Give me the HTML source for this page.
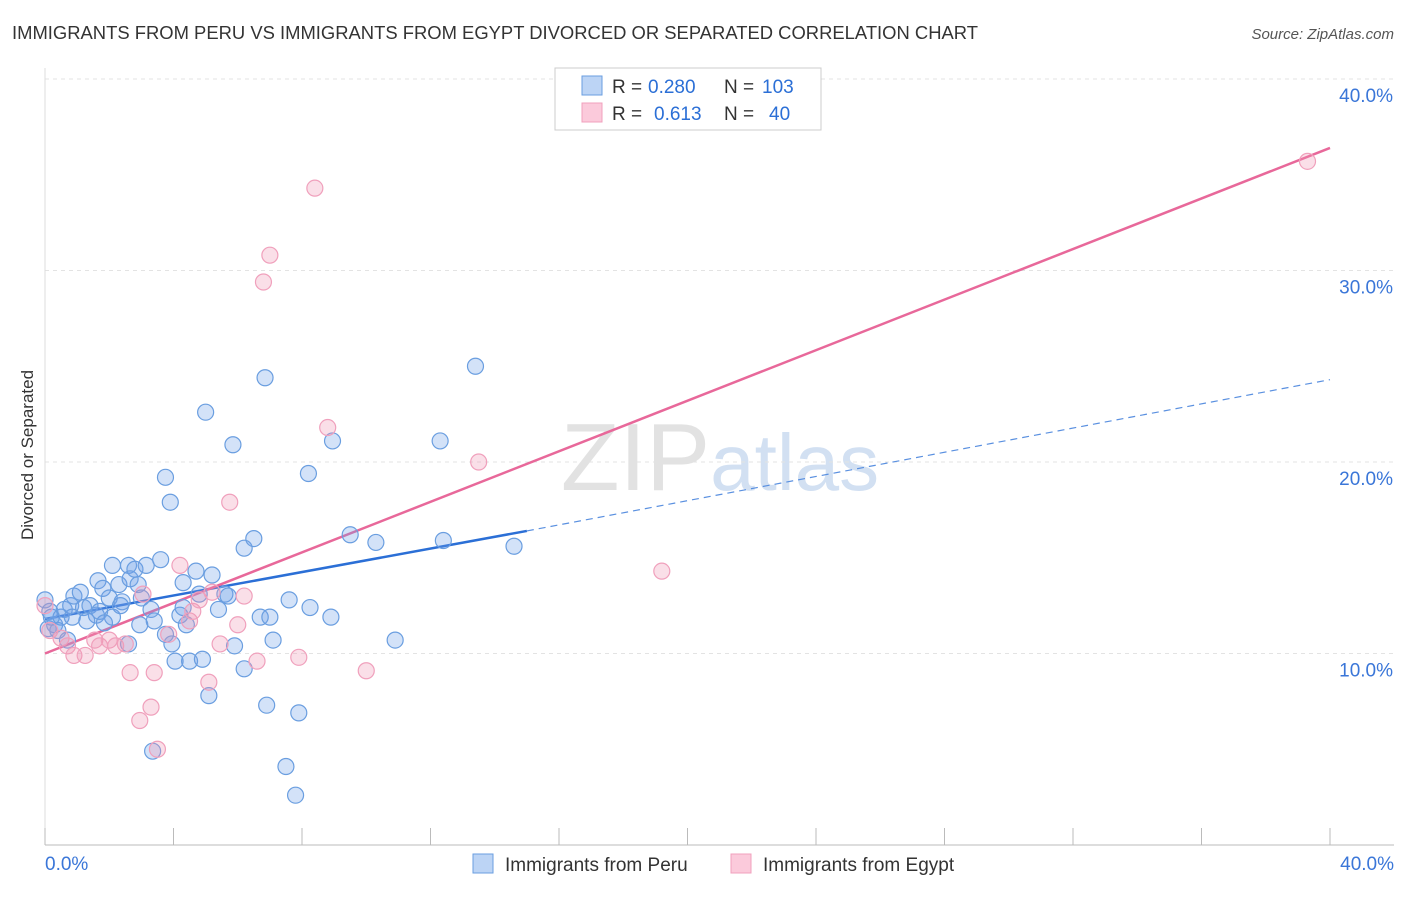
<!DOCTYPE html>
<html><head><meta charset="utf-8"><style>
body{margin:0;background:#fff;font-family:"Liberation Sans",sans-serif;}
svg text{font-family:"Liberation Sans",sans-serif;}
</style></head><body>
<svg id="chart" width="1406" height="892" xmlns="http://www.w3.org/2000/svg">
<text x="12" y="39" font-size="18" fill="#333" textLength="966" lengthAdjust="spacingAndGlyphs">IMMIGRANTS FROM PERU VS IMMIGRANTS FROM EGYPT DIVORCED OR SEPARATED CORRELATION CHART</text>
<text x="1394" y="39" font-size="15" fill="#555" text-anchor="end" font-style="italic">Source: ZipAtlas.com</text>
<text x="720" y="490" font-size="96" fill="#e2e2e2" text-anchor="middle" font-family="Liberation Serif">ZIP<tspan fill="#d2e0f2" font-family="Liberation Sans" font-size="80">atlas</tspan></text>
<text transform="translate(33,455) rotate(-90)" font-size="17" fill="#333" text-anchor="middle">Divorced or Separated</text>
<g id="grid"></g><g id="axes"></g><g id="lines"></g><g id="pts"></g>
<g>
<rect x="555" y="68" width="266" height="62" fill="#fff" stroke="#ccc"/>
<rect x="582" y="76" width="20" height="19" fill="#bcd4f5" stroke="#6a9ee0"/>
<rect x="582" y="103" width="20" height="19" fill="#fbcadb" stroke="#f0a0bc"/>
<text x="612" y="93" font-size="19" fill="#333">R =</text>
<text x="648" y="93" font-size="19" fill="#2b6fd6">0.280</text>
<text x="724" y="93" font-size="19" fill="#333">N =</text>
<text x="762" y="93" font-size="19" fill="#2b6fd6">103</text>
<text x="612" y="120" font-size="19" fill="#333">R =</text>
<text x="654" y="120" font-size="19" fill="#2b6fd6">0.613</text>
<text x="724" y="120" font-size="19" fill="#333">N =</text>
<text x="769" y="120" font-size="19" fill="#2b6fd6">40</text>
</g>
<g>
<rect x="473" y="854" width="20" height="19" fill="#bcd4f5" stroke="#6a9ee0"/>
<text x="505" y="871" font-size="19" fill="#333">Immigrants from Peru</text>
<rect x="731" y="854" width="20" height="19" fill="#fbcadb" stroke="#f0a0bc"/>
<text x="763" y="871" font-size="19" fill="#333">Immigrants from Egypt</text>
</g>
</svg>
<script>
const yTicks=[10,20,30,40];
const yTickLabels=["10.0%","20.0%","30.0%","40.0%"];
const xTicks=[0,4,8,12,16,20,24,28,32,36,40];
const peruX=[0,0.15,0.3,0.5,0.6,0.8,0.9,1.1,1.2,1.4,1.6,1.65,1.8,2.0,2.1,2.3,2.4,2.6,2.65,2.8,2.9,3.0,3.15,3.3,3.4,3.6,3.75,3.9,3.75,3.95,4.05,4.2,4.3,4.4,4.5,4.7,4.8,4.9,5.0,5.1,5.2,5.4,5.6,5.7,5.85,5.9,6.2,6.2,6.5,6.7,6.85,6.9,7.0,7.1,7.5,7.6,7.8,7.9,8.2,8.25,8.9,8.95,9.5,10.3,10.9,12.3,12.4,13.4,14.6,3.35,2.6,2.1,0.4,0.7,1.3,1.7,2.95,2.35,1.85,0.85,0.1,0.2,4.3];
const peruY=[12.8,12.2,11.5,11.9,12.3,12.5,13.0,13.2,12.4,12.5,12.0,13.8,13.4,12.9,14.6,13.6,12.7,14.6,13.9,14.4,13.6,12.9,14.6,12.3,11.7,14.9,19.2,17.9,11.0,10.5,9.6,12.0,13.7,11.5,9.6,14.3,13.1,9.7,22.6,7.8,14.1,12.3,13.1,13.0,20.9,10.4,15.5,9.2,16.0,11.9,24.4,7.3,11.9,10.7,4.1,12.8,2.6,6.9,19.4,12.4,11.9,21.1,16.2,15.8,10.7,21.1,15.9,25.0,15.6,4.9,10.5,11.9,11.2,10.7,11.7,12.2,11.5,12.5,11.6,11.9,11.3,11.9,12.4];
const egyptX=[0,0.15,0.5,0.7,0.9,1.25,1.55,1.7,2.0,2.2,2.5,2.65,2.95,3.05,3.3,3.4,3.5,3.85,4.2,4.5,4.6,4.8,5.1,5.2,5.45,5.75,6.0,6.2,6.6,6.8,7.0,7.9,8.4,8.8,10.0,13.5,19.2,39.3];
const egyptY=[12.5,11.2,10.8,10.4,9.9,9.9,10.7,10.4,10.7,10.4,10.5,9.0,6.5,13.1,7.2,9.0,5.0,11.0,14.6,11.7,12.2,12.8,8.5,13.2,10.5,17.9,11.5,13.0,9.6,29.4,30.8,9.8,34.3,21.8,9.1,20.0,14.3,35.7];
const peruLine=[[0,11.8],[15,16.4],[40,24.3]];
const egyptLine=[[0,10.0],[40,36.4]];
const NS="http://www.w3.org/2000/svg";
const sx=v=>45+v*32.125, sy=v=>845-v*19.15;
function mk(t,a,p){const e=document.createElementNS(NS,t);for(const k in a)e.setAttribute(k,a[k]);document.getElementById(p).appendChild(e);return e;}
yTicks.forEach((t,i)=>{
 const g=mk('line',{x1:45,x2:1394,y1:sy(t),y2:sy(t),stroke:'#e3e3e3','stroke-dasharray':'4,4'},'grid');
 
 
 const l=mk('text',{x:1393,y:sy(t)+23,'font-size':19,fill:'#3a76d8','text-anchor':'end'},'axes');
 l.textContent=yTickLabels[i];
 
 
});
const ax=mk('line',{x1:45,x2:1394,y1:845,y2:845,stroke:'#bbb'},'axes');


const ay=mk('line',{x1:45,x2:45,y1:68,y2:845,stroke:'#ddd'},'axes');


xTicks.forEach(t=>{const k=mk('line',{x1:sx(t),x2:sx(t),y1:828,y2:845,stroke:'#bbb'},'axes');
 
 });
const x0=mk('text',{x:45,y:870,'font-size':19,fill:'#3a76d8'},'axes');x0.textContent='0.0%';


const x1=mk('text',{x:1394,y:870,'font-size':19,fill:'#3a76d8','text-anchor':'end'},'axes');x1.textContent='40.0%';


function pts(X,Y,fill,stroke,name){X.forEach((x,i)=>{const c=mk('circle',{cx:sx(x),cy:sy(Y[i]),r:8,fill:fill,stroke:stroke,'stroke-width':1.2},'pts');
 
 });}
pts(peruX,peruY,'rgba(110,160,232,0.3)','#6a9ee0','peru-point');
pts(egyptX,egyptY,'rgba(240,150,180,0.3)','#f0a0bc','egypt-point');
const bl=mk('line',{x1:sx(peruLine[0][0]),y1:sy(peruLine[0][1]),x2:sx(peruLine[1][0]),y2:sy(peruLine[1][1]),stroke:'#2b6fd6','stroke-width':2.5},'lines');


const bd=mk('line',{x1:sx(peruLine[1][0]),y1:sy(peruLine[1][1]),x2:sx(peruLine[2][0]),y2:sy(peruLine[2][1]),stroke:'#5a90e0','stroke-width':1.2,'stroke-dasharray':'7,5'},'lines');


const pl=mk('line',{x1:sx(egyptLine[0][0]),y1:sy(egyptLine[0][1]),x2:sx(egyptLine[1][0]),y2:sy(egyptLine[1][1]),stroke:'#e8689a','stroke-width':2.5},'lines');


</script>
</body></html>
